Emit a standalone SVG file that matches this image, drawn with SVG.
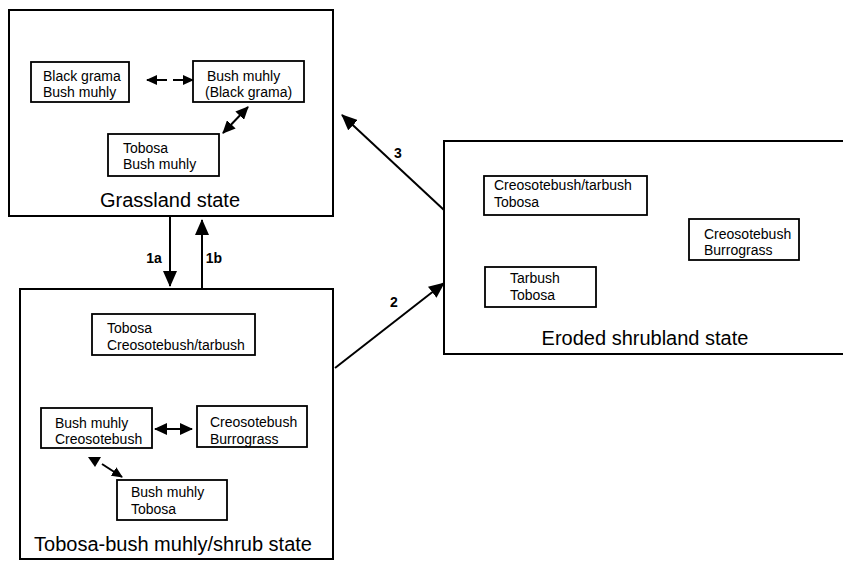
<svg xmlns="http://www.w3.org/2000/svg" width="843" height="562" viewBox="0 0 843 562">
<style>
.state{fill:none;stroke:#000;stroke-width:2}
.box{fill:#fff;stroke:#000;stroke-width:1.8}
.t{font-family:"Liberation Sans",Arial,sans-serif;font-size:14px;fill:#000}
.title{font-family:"Liberation Sans",Arial,sans-serif;font-size:20px;fill:#000;text-anchor:middle}
.lbl{font-family:"Liberation Sans",Arial,sans-serif;font-size:14px;font-weight:bold;fill:#000;text-anchor:middle}
.c{fill:none;stroke:#000;stroke-width:2}
.ah{fill:#000;stroke:none}
</style>
<defs>
<marker id="big" markerUnits="userSpaceOnUse" markerWidth="16" markerHeight="14" refX="15" refY="7" orient="auto-start-reverse" viewBox="0 0 16 14">
<path d="M0,0 L16,7 L0,14 Z" class="ah"/>
</marker>
<marker id="mid" markerUnits="userSpaceOnUse" markerWidth="13" markerHeight="12" refX="12" refY="6" orient="auto-start-reverse" viewBox="0 0 13 12">
<path d="M0,0 L13,6 L0,12 Z" class="ah"/>
</marker>
<marker id="sm" markerUnits="userSpaceOnUse" markerWidth="11" markerHeight="10" refX="10" refY="5" orient="auto-start-reverse" viewBox="0 0 11 10">
<path d="M0,0 L11,5 L0,10 Z" class="ah"/>
</marker>
</defs>

<g id="grassland-state">
<rect class="state" x="9" y="10" width="324" height="206"/>
<text class="title" x="170" y="207">Grassland state</text>
</g>
<g id="g-black-grama">
<rect class="box" x="31" y="62" width="98" height="40"/>
<text class="t" x="43" y="81">Black grama</text>
<text class="t" x="43" y="97">Bush muhly</text>
</g>
<g id="g-bush-muhly">
<rect class="box" x="193" y="61" width="111" height="41"/>
<text class="t" x="207" y="81">Bush muhly</text>
<text class="t" x="205" y="97">(Black grama)</text>
</g>
<g id="g-tobosa">
<rect class="box" x="108" y="134" width="111" height="42"/>
<text class="t" x="123" y="153">Tobosa</text>
<text class="t" x="123" y="169">Bush muhly</text>
</g>

<g id="shrub-state">
<rect class="state" x="20" y="289" width="313" height="270"/>
<text class="title" x="173" y="551">Tobosa-bush muhly/shrub state</text>
</g>
<g id="s-tobosa-creosote">
<rect class="box" x="92" y="314" width="163" height="41"/>
<text class="t" x="107" y="333">Tobosa</text>
<text class="t" x="107" y="350">Creosotebush/tarbush</text>
</g>
<g id="s-bush-creosote">
<rect class="box" x="41" y="408" width="111" height="40"/>
<text class="t" x="55" y="428">Bush muhly</text>
<text class="t" x="55" y="444">Creosotebush</text>
</g>
<g id="s-creosote-burro">
<rect class="box" x="197" y="406" width="110" height="41"/>
<text class="t" x="210" y="427">Creosotebush</text>
<text class="t" x="210" y="444">Burrograss</text>
</g>
<g id="s-bush-tobosa">
<rect class="box" x="117" y="480" width="110" height="40"/>
<text class="t" x="131" y="497">Bush muhly</text>
<text class="t" x="131" y="514">Tobosa</text>
</g>

<g id="eroded-state">
<rect class="state" x="444" y="141" width="404" height="213"/>
<text class="title" x="645" y="345">Eroded shrubland state</text>
</g>
<g id="e-creosote-tarbush">
<rect class="box" x="484" y="176" width="163" height="39"/>
<text class="t" x="494" y="190">Creosotebush/tarbush</text>
<text class="t" x="494" y="207">Tobosa</text>
</g>
<g id="e-creosote-burro">
<rect class="box" x="689" y="219" width="110" height="41"/>
<text class="t" x="704" y="239">Creosotebush</text>
<text class="t" x="704" y="255">Burrograss</text>
</g>
<g id="e-tarbush-tobosa">
<rect class="box" x="485" y="267" width="111" height="40"/>
<text class="t" x="510" y="283">Tarbush</text>
<text class="t" x="510" y="300">Tobosa</text>
</g>

<g id="connectors">
<line class="c" x1="167" y1="80" x2="147" y2="80" marker-end="url(#sm)"/>
<line class="c" x1="173" y1="80" x2="193" y2="80" marker-end="url(#sm)"/>
<line class="c" x1="223" y1="133" x2="248" y2="107" marker-start="url(#mid)" marker-end="url(#mid)"/>
<line class="c" x1="155" y1="429" x2="192" y2="429" marker-start="url(#mid)" marker-end="url(#mid)"/>
<path class="ah" d="M88,457 L101,457 L95,467 Z"/>
<line class="c" x1="102" y1="464" x2="122" y2="477" marker-end="url(#sm)"/>
<line class="c" x1="170" y1="216" x2="170" y2="286" marker-end="url(#big)"/>
<line class="c" x1="202" y1="289" x2="202" y2="220" marker-end="url(#big)"/>
<line class="c" x1="444" y1="210" x2="342" y2="115" marker-end="url(#big)"/>
<line class="c" x1="335" y1="368" x2="444" y2="283" marker-end="url(#big)"/>
<text class="lbl" x="154" y="263">1a</text>
<text class="lbl" x="214" y="263">1b</text>
<text class="lbl" x="398" y="158">3</text>
<text class="lbl" x="394" y="307">2</text>
</g>
</svg>
